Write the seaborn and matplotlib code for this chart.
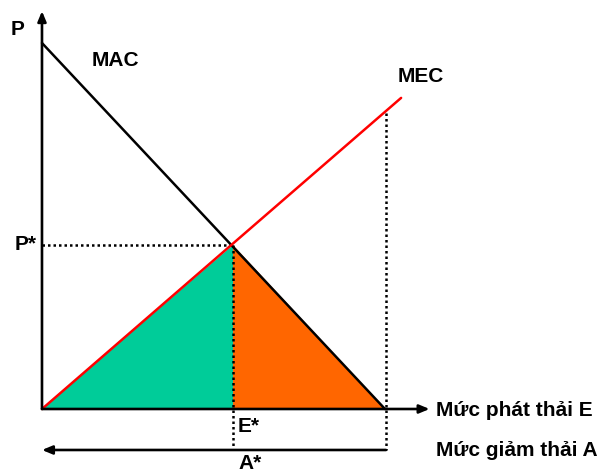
import matplotlib
matplotlib.use('Agg')
import matplotlib.pyplot as plt
import seaborn as sns
import pandas as pd

# curve end points (emission level E, price P)
mac_e = [0.0, 10.0]
mac_p = [10.67, 0.0]
mec_e = [0.0, 10.47]
mec_p = [0.0, 9.07]
e_star = 5.57
p_star = 4.78
e_max = 10.03
p_mec_at_max = 8.63

sns.set_style('white')
plt.rcParams['font.family'] = ['Liberation Sans', 'DejaVu Sans']

fig = plt.figure(figsize=(6.04, 4.73), dpi=100)
ax = fig.add_axes([0, 0, 1, 1])
ax.set_xlim(-1.224, 16.385)
ax.set_ylim(-1.866, 11.924)
ax.axis('off')

# shaded areas
ax.fill([0, e_star, e_star], [0, p_star, 0], color='#00CC99', lw=0)
ax.fill([e_star, e_star, 10.0], [0, p_star, 0], color='#FF6600', lw=0)

lines = pd.DataFrame({
    'E': mac_e + mec_e,
    'P': mac_p + mec_p,
    'curve': ['MAC', 'MAC', 'MEC', 'MEC'],
})
sns.lineplot(data=lines, x='E', y='P', hue='curve',
             palette={'MAC': 'black', 'MEC': '#FF0000'},
             linewidth=1.8, legend=False, ax=ax, zorder=3)

# dotted guides
dot = dict(color='black', lw=1.8, linestyle=(0, (1, 1.2)), zorder=2)
ax.plot([0, e_star], [p_star, p_star], **dot)
ax.plot([e_star, e_star], [p_star, -1.195], **dot)
ax.plot([e_max, e_max], [p_mec_at_max, -1.195], **dot)

# axes arrows
arr = dict(arrowstyle='-|>,head_length=0.6,head_width=0.25', color='black', lw=1.9,
           shrinkA=0, shrinkB=0)
ax.annotate('', xy=(0, 11.6), xytext=(0, 0), arrowprops=arr)
ax.annotate('', xy=(11.3, 0), xytext=(0, 0), arrowprops=arr)
ax.annotate('', xy=(0, -1.195), xytext=(e_max, -1.195), arrowprops=arr)

fs = 15
kw = dict(fontsize=fs, fontweight='bold', color='black')
ax.text(-0.70, 11.05, 'P', ha='center', va='center', **kw)
ax.text(2.13, 10.17, 'MAC', ha='center', va='center', **kw)
ax.text(11.05, 9.68, 'MEC', ha='center', va='center', **kw)
ax.text(-0.47, 4.81, 'P*', ha='center', va='center', **kw)
ax.text(5.71, -0.52, 'E*', ha='left', va='center', **kw)
ax.text(6.06, -1.58, 'A*', ha='center', va='center', **kw)
ax.text(11.49, -0.03, 'Mức phát thải E', ha='left', va='center', **kw)
ax.text(11.49, -1.22, 'Mức giảm thải A', ha='left', va='center', **kw)

fig.savefig('out.png', dpi=100)
plt.close()
